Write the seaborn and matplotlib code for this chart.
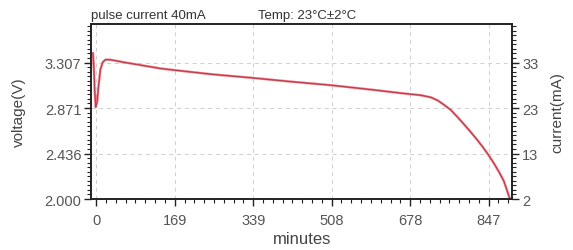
import matplotlib
matplotlib.use("Agg")
import matplotlib.pyplot as plt
import seaborn as sns
import pandas as pd
from matplotlib.ticker import AutoMinorLocator

# discharge curve
minutes = [-7, -5, -3, -1, 2, 5, 9, 14, 20, 30, 60, 100, 140, 169, 250, 339,
           420, 508, 600, 657, 678, 700, 722, 737, 750, 765, 782, 802, 820,
           835, 847, 858, 870, 880, 893]
voltage = [3.40, 3.25, 3.02, 2.88, 2.93, 3.08, 3.24, 3.31, 3.335, 3.335, 3.31,
           3.28, 3.25, 3.235, 3.195, 3.16, 3.125, 3.09, 3.045, 3.015, 3.005,
           2.995, 2.975, 2.945, 2.905, 2.855, 2.775, 2.675, 2.58, 2.495,
           2.42, 2.345, 2.255, 2.17, 2.0]

xticks = [0, 169, 339, 508, 678, 847]
vticks = [2.000, 2.436, 2.871, 3.307]
current_labels = ["2", "13", "23", "33"]

df = pd.DataFrame({"minutes": minutes, "voltage": voltage})

sns.set_style("ticks")
plt.rcParams["font.family"] = ["Liberation Sans", "DejaVu Sans"]

fig = plt.figure(figsize=(5.73, 2.51), dpi=100)
ax = fig.add_axes([0.159, 0.203, 0.735, 0.697])

ax.grid(True, ls=(0, (4, 4)), color="#cfcfcf", lw=0.7)
sns.lineplot(data=df, x="minutes", y="voltage", ax=ax, color="#ee6e7a", lw=1.7)
sns.lineplot(data=df, x="minutes", y="voltage", ax=ax, color="#9a3040", lw=0.5)

ax.set_xlim(-11, 898)
ax.set_ylim(2.0, 3.676)
ax.set_xticks([0, 169.4, 338.8, 508.2, 677.6, 847])
ax.set_xticklabels([str(v) for v in xticks])
ax.set_yticks(vticks)
ax.set_yticklabels(["%.3f" % v for v in vticks])
ax.xaxis.set_minor_locator(AutoMinorLocator(8))
ax.yaxis.set_minor_locator(AutoMinorLocator(10))
ax.tick_params(axis="x", which="major", pad=5)
ax.tick_params(which="major", length=5, width=1, color="#222222",
               labelsize=10.5, labelcolor="#555555")
ax.tick_params(axis="y", which="major", pad=2)
ax.tick_params(which="minor", length=3, width=0.8, color="#222222")
for s in ax.spines.values():
    s.set_linewidth(1.2)
    s.set_color("#222222")

ax.set_xlabel("minutes", fontsize=12, color="#444444")
ax.xaxis.set_label_coords(0.5, -0.18)
ax.set_ylabel("voltage(V)", fontsize=11, color="#444444")
ax.yaxis.set_label_coords(-0.155, 0.5)

ax2 = ax.twinx()
ax2.set_ylim(2.0, 3.676)
ax2.set_yticks(vticks)
ax2.set_yticklabels(current_labels)
ax2.yaxis.set_minor_locator(AutoMinorLocator(10))
ax2.tick_params(which="major", length=5, width=1, color="#222222",
                labelsize=10.5, labelcolor="#555555", pad=2)
ax2.tick_params(which="minor", length=3, width=0.8, color="#222222")
ax2.set_ylabel("current(mA)", fontsize=11, color="#444444")
ax2.yaxis.set_label_coords(1.09, 0.5)
for s in ax2.spines.values():
    s.set_linewidth(1.2)
    s.set_color("#222222")

fig.text(0.159, 0.925, "pulse current 40mA", fontsize=9.5, color="#333333")
fig.text(0.45, 0.925, "Temp: 23°C±2°C", fontsize=9.5, color="#333333")

fig.savefig("out.png", dpi=100)
